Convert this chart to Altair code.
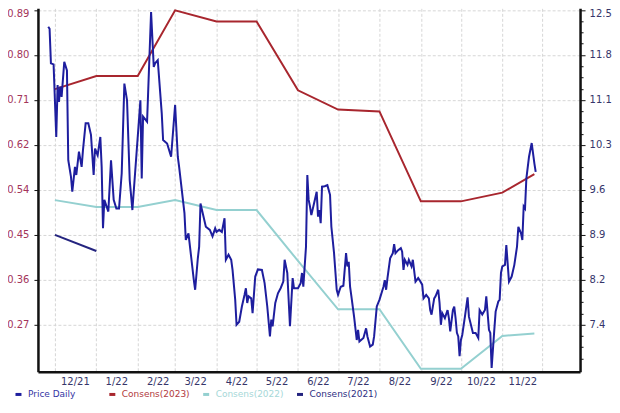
import altair as alt
import pandas as pd

# ---------------- data ----------------
PRICE_DATES = [
    "2021-11-26", "2021-11-27", "2021-11-28", "2021-11-30", "2021-12-02", "2021-12-03", "2021-12-04",
    "2021-12-05", "2021-12-06", "2021-12-08", "2021-12-10", "2021-12-11", "2021-12-13", "2021-12-14",
    "2021-12-16", "2021-12-17", "2021-12-19", "2021-12-21", "2021-12-22", "2021-12-24", "2021-12-26",
    "2021-12-28", "2021-12-30", "2021-12-31", "2022-01-02", "2022-01-04", "2022-01-05", "2022-01-06",
    "2022-01-07", "2022-01-10", "2022-01-12", "2022-01-14", "2022-01-16", "2022-01-18", "2022-01-20",
    "2022-01-22", "2022-01-24", "2022-01-26", "2022-01-28", "2022-01-30", "2022-02-03", "2022-02-04",
    "2022-02-05", "2022-02-08", "2022-02-11", "2022-02-13", "2022-02-14", "2022-02-16", "2022-02-19",
    "2022-02-20", "2022-02-23", "2022-02-26", "2022-03-01", "2022-03-03", "2022-03-04", "2022-03-08",
    "2022-03-09", "2022-03-11", "2022-03-13", "2022-03-15", "2022-03-16", "2022-03-18", "2022-03-19",
    "2022-03-20", "2022-03-24", "2022-03-27", "2022-03-29", "2022-03-31", "2022-04-01", "2022-04-03",
    "2022-04-05", "2022-04-07", "2022-04-08", "2022-04-10", "2022-04-12", "2022-04-13", "2022-04-15",
    "2022-04-16", "2022-04-18", "2022-04-20", "2022-04-22", "2022-04-23", "2022-04-24", "2022-04-25",
    "2022-04-27", "2022-04-28", "2022-04-30", "2022-05-02", "2022-05-05", "2022-05-07", "2022-05-09",
    "2022-05-11", "2022-05-12", "2022-05-13", "2022-05-15", "2022-05-17", "2022-05-19", "2022-05-21",
    "2022-05-22", "2022-05-24", "2022-05-26", "2022-05-28", "2022-05-29", "2022-06-01", "2022-06-03",
    "2022-06-04", "2022-06-05", "2022-06-07", "2022-06-08", "2022-06-09", "2022-06-10", "2022-06-11",
    "2022-06-13", "2022-06-15", "2022-06-16", "2022-06-17", "2022-06-18", "2022-06-19", "2022-06-21",
    "2022-06-23", "2022-06-25", "2022-06-26", "2022-06-28", "2022-06-30", "2022-07-01", "2022-07-03",
    "2022-07-05", "2022-07-07", "2022-07-08", "2022-07-09", "2022-07-10", "2022-07-11", "2022-07-13",
    "2022-07-15", "2022-07-16", "2022-07-17", "2022-07-20", "2022-07-22", "2022-07-23", "2022-07-25",
    "2022-07-27", "2022-07-28", "2022-07-30", "2022-08-01", "2022-08-04", "2022-08-05", "2022-08-06",
    "2022-08-07", "2022-08-09", "2022-08-11", "2022-08-12", "2022-08-13", "2022-08-15", "2022-08-17",
    "2022-08-18", "2022-08-19", "2022-08-20", "2022-08-22", "2022-08-23", "2022-08-25", "2022-08-26",
    "2022-08-28", "2022-08-30", "2022-08-31", "2022-09-02", "2022-09-03", "2022-09-05", "2022-09-07",
    "2022-09-08", "2022-09-09", "2022-09-11", "2022-09-12", "2022-09-14", "2022-09-15", "2022-09-16",
    "2022-09-17", "2022-09-19", "2022-09-21", "2022-09-22", "2022-09-23", "2022-09-25", "2022-09-26",
    "2022-09-27", "2022-09-28", "2022-09-29", "2022-09-30", "2022-10-01", "2022-10-02", "2022-10-04",
    "2022-10-06", "2022-10-07", "2022-10-10", "2022-10-12", "2022-10-14", "2022-10-15", "2022-10-17",
    "2022-10-19", "2022-10-20", "2022-10-22", "2022-10-23", "2022-10-24", "2022-10-26", "2022-10-27",
    "2022-10-29", "2022-10-30", "2022-10-31", "2022-11-01", "2022-11-03", "2022-11-04", "2022-11-05",
    "2022-11-06", "2022-11-08", "2022-11-10", "2022-11-12", "2022-11-13", "2022-11-15", "2022-11-16",
    "2022-11-17", "2022-11-18", "2022-11-19", "2022-11-21", "2022-11-23", "2022-11-25", "2022-11-26",
]
PRICE_VALUES = [
    0.857, 0.853, 0.785, 0.783, 0.640, 0.742, 0.709,
    0.739, 0.719, 0.788, 0.771, 0.594, 0.562, 0.532,
    0.581, 0.565, 0.611, 0.581, 0.614, 0.667, 0.667,
    0.644, 0.565, 0.617, 0.604, 0.640, 0.581, 0.460,
    0.516, 0.493, 0.594, 0.516, 0.499, 0.499, 0.568,
    0.745, 0.712, 0.555, 0.496, 0.568, 0.712, 0.558,
    0.680, 0.670, 0.886, 0.778, 0.785, 0.791, 0.686,
    0.634, 0.627, 0.601, 0.703, 0.601, 0.581, 0.490,
    0.437, 0.450, 0.404, 0.358, 0.339, 0.401, 0.424,
    0.509, 0.463, 0.457, 0.444, 0.460, 0.453, 0.457,
    0.453, 0.480, 0.398, 0.408, 0.398, 0.378, 0.319,
    0.270, 0.276, 0.306, 0.329, 0.342, 0.313, 0.326,
    0.322, 0.293, 0.365, 0.379, 0.378, 0.352, 0.306,
    0.247, 0.280, 0.267, 0.313, 0.332, 0.342, 0.355,
    0.398, 0.372, 0.267, 0.362, 0.342, 0.342, 0.352,
    0.372, 0.345, 0.424, 0.565, 0.516, 0.503, 0.486,
    0.509, 0.532, 0.483, 0.496, 0.470, 0.542, 0.543,
    0.545, 0.526, 0.463, 0.411, 0.339, 0.329, 0.345,
    0.347, 0.411, 0.385, 0.394, 0.345, 0.326, 0.286,
    0.240, 0.260, 0.237, 0.244, 0.263, 0.247, 0.227,
    0.231, 0.247, 0.306, 0.319, 0.345, 0.358, 0.339,
    0.362, 0.401, 0.411, 0.429, 0.411, 0.417, 0.421,
    0.414, 0.378, 0.398, 0.388, 0.398, 0.385, 0.398,
    0.355, 0.362, 0.358, 0.349, 0.322, 0.329, 0.322,
    0.299, 0.290, 0.322, 0.326, 0.339, 0.313, 0.270,
    0.293, 0.283, 0.299, 0.283, 0.257, 0.299, 0.306,
    0.283, 0.254, 0.247, 0.208, 0.240, 0.250, 0.286,
    0.324, 0.286, 0.254, 0.254, 0.244, 0.299, 0.290,
    0.299, 0.326, 0.260, 0.254, 0.185, 0.260, 0.296,
    0.316, 0.319, 0.372, 0.385, 0.388, 0.427, 0.391,
    0.355, 0.365, 0.388, 0.424, 0.463, 0.450, 0.437,
    0.503, 0.499, 0.558, 0.601, 0.628, 0.588, 0.571,
]

CONS_DATES = ["2021-12-01", "2022-01-01", "2022-02-01", "2022-03-01", "2022-04-01", "2022-05-01",
              "2022-06-01", "2022-07-01", "2022-08-01", "2022-09-01", "2022-10-01", "2022-11-01",
              "2022-11-25"]
CONS_2023 = [11.23, 11.44, 11.44, 12.50, 12.32, 12.32, 11.21, 10.90, 10.87, 9.42, 9.42, 9.56, 9.86]
CONS_2022 = [9.44, 9.33, 9.33, 9.44, 9.28, 9.28, 8.46, 7.68, 7.68, 6.72, 6.72, 7.25, 7.29]
CONS_2021_DATES = ["2021-12-01", "2022-01-01"]
CONS_2021 = [8.88, 8.62]

SERIES = ["Price Daily", "Consens(2023)", "Consens(2022)", "Consens(2021)"]
LINE_COLORS = ["#1e1e9e", "#a8262e", "#94d0d0", "#24247f"]
LEGEND_TEXT_COLORS = ["#3535a3", "#b23a40", "#a6d8d8", "#2e2e82"]

LEFT_TICKS = [0.27, 0.3586, 0.4471, 0.5357, 0.6243, 0.7129, 0.8014, 0.89]
RIGHT_TICKS = [7.43, 8.155, 8.88, 9.605, 10.33, 11.055, 11.78, 12.505]
MONTH_TICKS = [(2021, 12)] + [(2022, m) for m in range(1, 13)]

# ---------------- tables ----------------
price_df = pd.DataFrame({
    "date": pd.to_datetime(PRICE_DATES),
    "value": PRICE_VALUES,
    "series": "Price Daily",
})
cons_df = pd.concat([
    pd.DataFrame({"date": pd.to_datetime(CONS_DATES), "value": CONS_2023, "series": "Consens(2023)"}),
    pd.DataFrame({"date": pd.to_datetime(CONS_DATES), "value": CONS_2022, "series": "Consens(2022)"}),
    pd.DataFrame({"date": pd.to_datetime(CONS_2021_DATES), "value": CONS_2021, "series": "Consens(2021)"}),
], ignore_index=True)

FONT = "DejaVu Sans"
GRID = "#d6d6d6"

x_scale = alt.Scale(domain=[alt.DateTime(year=2021, month=11, date=18, hours=7),
                            alt.DateTime(year=2022, month=12, date=29, hours=5)])
x_axis = alt.Axis(
    values=[alt.DateTime(year=y, month=m, date=1) for y, m in MONTH_TICKS],
    labelExpr="year(datum.value) == 2022 && month(datum.value) == 11 ? '' : timeFormat(datum.value, '%-m/%y')",
    labelOffset=20, labelPadding=5, labelFlush=False, labelOverlap=False,
    ticks=False, grid=True, gridColor=GRID, gridDash=[3, 2], gridWidth=1,
    domainColor="#111111", domainWidth=2.5,
    labelColor="#35356a", labelFont=FONT, labelFontSize=10, title=None,
)

legend_label_color = (
    "[" + ",".join(f"'{c}'" for c in LEGEND_TEXT_COLORS) + "][indexof(["
    + ",".join(f"'{s}'" for s in SERIES) + "], datum.value)]"
)

color_enc = alt.Color(
    "series:N",
    scale=alt.Scale(domain=SERIES, range=LINE_COLORS),
    legend=alt.Legend(
        orient="none", legendX=-24, legendY=382, direction="horizontal",
        title=None, padding=0, gridAlign="all", columnPadding=6,
        symbolType="stroke", symbolSize=36, symbolStrokeWidth=3,
        labelFont=FONT, labelFontSize=9, labelOffset=5,
        labelColor={"expr": legend_label_color},
    ),
)

major_test = "abs((datum.value - 7.43) / 0.725 - round((datum.value - 7.43) / 0.725)) < 0.05"
step = (RIGHT_TICKS[1] - RIGHT_TICKS[0]) / 4
right_values = [RIGHT_TICKS[0] - 3 * step, RIGHT_TICKS[0] - 2 * step, RIGHT_TICKS[0] - step]
for t in RIGHT_TICKS:
    right_values.append(t)
    if t < RIGHT_TICKS[-1]:
        right_values += [t + step, t + 2 * step, t + 3 * step]

price = alt.Chart(price_df).mark_line(strokeWidth=2).encode(
    x=alt.X("date:T", scale=x_scale, axis=x_axis),
    y=alt.Y("value:Q",
            scale=alt.Scale(domain=[0.1775, 0.8933], nice=False, zero=False),
            axis=alt.Axis(values=LEFT_TICKS, format=".2f", orient="left",
                          grid=True, gridColor=GRID, gridDash=[3, 2],
                          domainColor="#111111", domainWidth=2.5,
                          tickColor="#111111", tickSize=4, labelPadding=5,
                          labelOverlap=False, labelFlush=4, labelFlushOffset=1.5,
                          labelColor="#a3345a", labelFont=FONT, labelFontSize=10, title=None)),
    color=color_enc,
)

cons = alt.Chart(cons_df).mark_line(strokeWidth=2).encode(
    x=alt.X("date:T", scale=x_scale),
    y=alt.Y("value:Q",
            scale=alt.Scale(domain=[6.673, 12.532], nice=False, zero=False),
            axis=alt.Axis(values=right_values, orient="right", grid=False,
                          labelExpr=major_test + " ? format(datum.value, '.1f') : ''",
                          tickSize={"condition": {"test": major_test, "value": 5}, "value": 3},
                          domainColor="#111111", domainWidth=2.5,
                          tickColor="#111111", labelPadding=4,
                          labelOverlap=False, labelFlush=4, labelFlushOffset=1.5,
                          labelColor="#35356a", labelFont=FONT, labelFontSize=10, title=None)),
    color=color_enc,
    detail="series:N",
)

chart = alt.layer(cons, price).resolve_scale(y="independent").properties(
    width=543, height=364,
    autosize=alt.AutoSizeParams(type="none"),
    padding={"left": 30, "top": 0, "right": 32, "bottom": 42},
    background="white",
).configure_view(stroke=None)

chart.save("out.html", embed_options={"renderer": "svg", "actions": False})
